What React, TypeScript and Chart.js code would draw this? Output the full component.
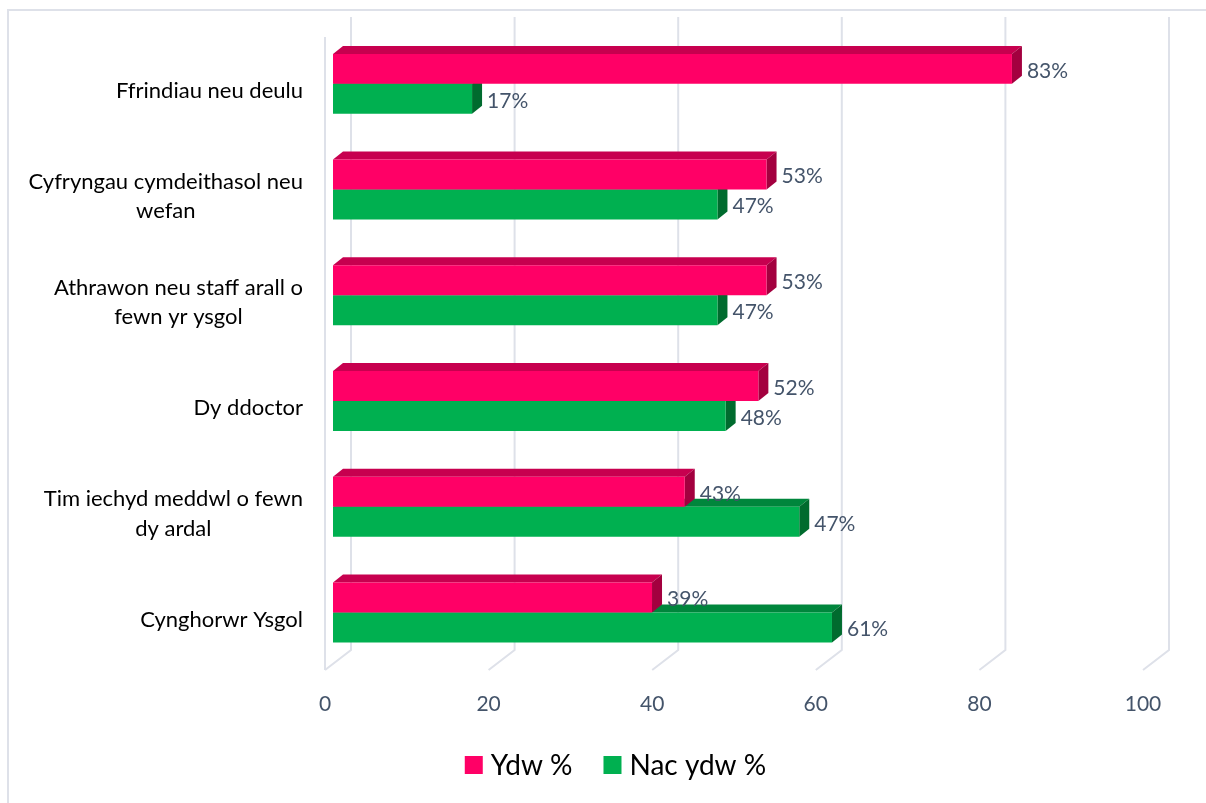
import React, { useEffect, useRef } from "react";
import { Chart, registerables } from "chart.js";

Chart.register(...registerables);

const categories: string[][] = [
  ["Ffrindiau neu deulu"],
  ["Cyfryngau cymdeithasol neu", "wefan"],
  ["Athrawon neu staff arall o", "fewn yr ysgol"],
  ["Dy ddoctor"],
  ["Tim iechyd meddwl o fewn", "dy ardal"],
  ["Cynghorwr Ysgol"],
];
const seriesNames = ["Ydw %", "Nac ydw %"];
const ydwValues = [83, 53, 53, 52, 43, 39];
const nacYdwValues = [17, 47, 47, 48, 57, 61];
const ydwLabels = ["83%", "53%", "53%", "52%", "43%", "39%"];
const nacYdwLabels = ["17%", "47%", "47%", "48%", "47%", "61%"];
const xTickValues = [0, 20, 40, 60, 80, 100];

const FONT = "Lato, 'Open Sans', sans-serif";
const FRONT = ["#ff0066", "#00b050"];
const TOP = ["#c7004f", "#00863c"];
const SIDE = ["#a3003f", "#006b2e"];
const GRID = "#dee1e9";
const TEXT2 = "#44546a";
const DX = 10;
const DY = 8;

const threeD = {
  id: "threeD",
  beforeDatasetsDraw(chart: any) {
    const ctx = chart.ctx;
    const xs = chart.scales.x;
    ctx.save();
    // outer frame (top & left)
    ctx.strokeStyle = GRID;
    ctx.lineWidth = 2;
    ctx.beginPath();
    ctx.moveTo(8, 803);
    ctx.lineTo(8, 10);
    ctx.lineTo(1206, 10);
    ctx.stroke();
    // 3D grid
    const backTop = 17;
    const backBottom = 650;
    const frontBottom = 670;
    ctx.beginPath();
    for (const v of xTickValues) {
      const p = xs.getPixelForValue(v);
      ctx.moveTo(p + 18, backTop);
      ctx.lineTo(p + 18, backBottom);
      ctx.lineTo(p - 8, frontBottom);
    }
    const p0 = xs.getPixelForValue(0);
    ctx.moveTo(p0 - 8, 37);
    ctx.lineTo(p0 - 8, frontBottom);
    ctx.stroke();
    // bar tops and sides (green first, then red)
    const n = chart.data.labels.length;
    for (let i = 0; i < n; i++) {
      for (const d of [1, 0]) {
        const el = chart.getDatasetMeta(d).data[i] as any;
        if (!el) continue;
        const top = el.y - el.height / 2;
        const bot = el.y + el.height / 2;
        const b = el.base;
        const e = el.x;
        ctx.fillStyle = TOP[d];
        ctx.beginPath();
        ctx.moveTo(b, top);
        ctx.lineTo(b + DX, top - DY);
        ctx.lineTo(e + DX, top - DY);
        ctx.lineTo(e, top);
        ctx.closePath();
        ctx.fill();
        ctx.fillStyle = SIDE[d];
        ctx.beginPath();
        ctx.moveTo(e, top);
        ctx.lineTo(e + DX, top - DY);
        ctx.lineTo(e + DX, bot - DY);
        ctx.lineTo(e, bot);
        ctx.closePath();
        ctx.fill();
      }
    }
    ctx.restore();
  },
  afterDraw(chart: any) {
    const ctx = chart.ctx;
    const ys = chart.scales.y;
    ctx.save();
    // data labels
    const labelSets = [ydwLabels, nacYdwLabels];
    ctx.font = `21px ${FONT}`;
    ctx.fillStyle = TEXT2;
    ctx.textAlign = "left";
    ctx.textBaseline = "middle";
    for (const d of [0, 1]) {
      chart.getDatasetMeta(d).data.forEach((el: any, i: number) => {
        ctx.fillText(labelSets[d][i], el.x + 15, el.y + 2);
      });
    }
    // category labels
    ctx.fillStyle = "#000000";
    ctx.font = `22px ${FONT}`;
    const lh = 29.5;
    categories.forEach((lines, i) => {
      const cy = ys.getPixelForValue(i) + 7;
      const maxW = Math.max(...lines.map((l) => ctx.measureText(l).width));
      const cx = 303 - maxW / 2;
      ctx.textAlign = "center";
      lines.forEach((l, k) => {
        const y = cy + (k - (lines.length - 1) / 2) * lh;
        ctx.fillText(l, cx, y);
      });
    });
    // legend
    ctx.font = `28px ${FONT}`;
    ctx.textAlign = "left";
    const box = 18;
    const gapBoxText = 8;
    const gapItems = 31;
    const widths = seriesNames.map((s) => box + gapBoxText + ctx.measureText(s).width);
    const total = widths.reduce((a, b) => a + b, 0) + gapItems * (widths.length - 1);
    let x = 615.5 - total / 2;
    const ly = 765;
    seriesNames.forEach((s, i) => {
      ctx.fillStyle = FRONT[i];
      ctx.fillRect(x, ly - box / 2, box, box);
      ctx.fillStyle = "#000000";
      ctx.fillText(s, x + box + gapBoxText, ly + 1);
      x += widths[i] + gapItems;
    });
    ctx.restore();
  },
};

export default function App() {
  const ref = useRef<HTMLCanvasElement | null>(null);
  useEffect(() => {
    if (!ref.current) return;
    const chart = new Chart(ref.current, {
      type: "bar",
      data: {
        labels: categories.map((c) => c.join(" ")),
        datasets: [
          { label: seriesNames[0], data: ydwValues, backgroundColor: FRONT[0] },
          { label: seriesNames[1], data: nacYdwValues, backgroundColor: FRONT[1] },
        ],
      },
      options: {
        indexAxis: "y",
        responsive: false,
        animation: false,
        layout: { padding: { top: 31, right: 55, left: 0, bottom: 0 } },
        datasets: { bar: { barPercentage: 1, categoryPercentage: 0.567 } },
        scales: {
          x: {
            min: 0,
            max: 100,
            afterBuildTicks: (s: any) => {
              s.ticks = xTickValues.map((v) => ({ value: v }));
            },
            afterFit: (s: any) => {
              s.height = 137.6;
            },
            grid: { display: false, drawTicks: false },
            border: { display: false },
            ticks: {
              labelOffset: -8,
              padding: 26,
              color: TEXT2,
              font: { family: FONT, size: 21 },
            },
          },
          y: {
            afterFit: (s: any) => {
              s.width = 333;
            },
            grid: { display: false, drawTicks: false },
            border: { display: false },
            ticks: { display: false },
          },
        },
        plugins: { legend: { display: false }, tooltip: { enabled: false } },
      },
      plugins: [threeD],
    } as any);
    return () => chart.destroy();
  }, []);
  return (
    <div style={{ position: "absolute", left: 0, top: 0, width: 1206, height: 803, background: "#fff" }}>
      <canvas ref={ref} width={1206} height={803} />
    </div>
  );
}
